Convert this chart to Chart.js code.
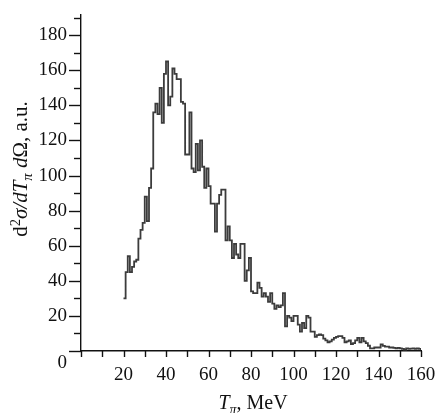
<!DOCTYPE html>
<html>
<head>
<meta charset="utf-8">
<script src="https://cdn.jsdelivr.net/npm/chart.js@4.4.1/dist/chart.umd.min.js"></script>
<style>
  html, body { margin: 0; padding: 0; background: #fff; }
  #wrap { width: 439px; height: 413px; position: relative; }
</style>
</head>
<body>
<div id="wrap"><canvas id="c"></canvas></div>
<script>
// Bin edges (MeV): each point is the right edge of a bin; first point is the start of the curve
const energyEdges = [20,21,22,23,24,25,26,27,28,29,30,31,32,33,34,35,36,37,38,39,
  40,41,42,43,44,45,46,47,48,49,50,51,52,53,54,55,56,57,58,59,
  60,61,62,63,64,65,66,67,68,69,70,71,72,73,74,75,76,77,78,79,
  80,81,82,83,84,85,86,87,88,89,90,91,92,93,94,95,96,97,98,99,
  100,101,102,103,104,105,106,107,108,109,110,111,112,113,114,115,116,117,118,119,
  120,121,122,123,124,125,126,127,128,129,130,131,132,133,134,135,136,137,138,139,
  140,141,142,143,144,145,146,147,148,149,150,151,152,153,154,155,156,157,158,159,160];
// d2sigma/dT dOmega (a.u.)
const crossSection = [30,
  45,54,45,48,51,52,64,69,73,88,74,93,104,136,141,135,150,130,158,165,
  140,145,161,158,155,155,142,141,112,112,136,104,102,118,103,120,105,93,104,94,
  84,84,68,84,89,92,92,63,71,63,53,61,55,53,61,61,40,46,53,34,
  33,33,39,36,31,33,31,28,33,27,24,26,25,26,33,14,20,19,17,20,
  20,15,11,16,13,20,19,11,11,8,9,9.5,9,7,6,5,5.5,6.5,7.5,8,
  8.5,8.5,7.5,5,5.5,6,4,4.5,6,7.5,5,7.5,5.5,4.5,3,1.5,1.5,2,2,2,
  3.8,2.9,2.5,2.5,2,2,1.8,1.5,1.8,1.5,1.2,0.8,1.5,1.2,1.3,1.5,1.2,1.5,1.2,0.5];
const xTickLabels = [20,40,60,80,100,120,140,160];
const yTickLabels = [20,40,60,80,100,120,140,160,180];

const FONT = '"Liberation Serif", "Times New Roman", serif';

function drawRich(ctx, segs, size, cx, cy) {
  let total = 0;
  segs.forEach(s => {
    const sz = size * (s.scale || 1);
    ctx.font = (s.italic ? 'italic ' : '') + sz + 'px ' + FONT;
    s.w = ctx.measureText(s.t).width;
    s.sz = sz;
    total += s.w;
  });
  let x = cx - total / 2;
  ctx.textBaseline = 'alphabetic';
  ctx.textAlign = 'left';
  segs.forEach(s => {
    ctx.font = (s.italic ? 'italic ' : '') + s.sz + 'px ' + FONT;
    ctx.fillText(s.t, x, cy + size * 0.33 + (s.dy || 0) * size);
    x += s.w;
  });
}

const axesPlugin = {
  id: 'axesPlugin',
  afterDraw(chart) {
    const ctx = chart.ctx;
    const xs = chart.scales.x, ys = chart.scales.y;
    const a = chart.chartArea;
    ctx.save();
    ctx.strokeStyle = '#111';
    ctx.lineWidth = 1.4;
    for (let v = 0; v <= 190; v += 10) {
      const py = Math.round(ys.getPixelForValue(v)) + 0.5;
      const len = (v % 20 === 0) ? 12 : 7;
      ctx.beginPath();
      ctx.moveTo(a.left - len, py);
      ctx.lineTo(a.left, py);
      ctx.stroke();
    }
    for (let v = 0; v <= 160; v += 10) {
      const px = Math.round(xs.getPixelForValue(v)) + 0.5;
      ctx.beginPath();
      ctx.moveTo(px, a.bottom);
      ctx.lineTo(px, a.bottom + 6);
      ctx.stroke();
    }
    ctx.fillStyle = '#111';
    ctx.font = '19px ' + FONT;
    ctx.textAlign = 'right';
    ctx.textBaseline = 'middle';
    ctx.fillText('0', a.left - 14, ys.getPixelForValue(0) + 12);
    drawRich(ctx, [
      {t: 'T', italic: true},
      {t: 'π', italic: true, scale: 0.7, dy: 0.25},
      {t: ', MeV'}
    ], 20, 253, 402);
    ctx.translate(20, 169);
    ctx.rotate(-Math.PI / 2);
    drawRich(ctx, [
      {t: 'd'},
      {t: '2', scale: 0.7, dy: -0.35},
      {t: 'σ/dT', italic: true},
      {t: 'π', italic: true, scale: 0.7, dy: 0.25},
      {t: ' d', italic: true},
      {t: 'Ω, a.u.'}
    ], 21, 0, 0);
    ctx.restore();
  }
};

function zeroPad(s) {
  s.paddingLeft = 0; s.paddingRight = 0; s.paddingTop = 0; s.paddingBottom = 0;
}

const points = energyEdges.map((e, i) => ({x: e, y: crossSection[i]}));

new Chart(document.getElementById('c'), {
  type: 'line',
  data: {
    datasets: [{
      data: points,
      stepped: 'before',
      borderColor: '#3c3c3c',
      borderWidth: 1.8,
      pointRadius: 0,
      fill: false
    }]
  },
  options: {
    responsive: true,
    maintainAspectRatio: false,
    animation: false,
    layout: { padding: { top: 15, right: 18, left: 0, bottom: 0 } },
    plugins: { legend: { display: false }, tooltip: { enabled: false } },
    scales: {
      x: {
        type: 'linear',
        min: 0, max: 160,
        grid: { display: false, drawTicks: false },
        border: { display: true, color: '#111', width: 1.4 },
        ticks: {
          stepSize: 20,
          padding: 13,
          color: '#111',
          font: { family: FONT, size: 19 },
          maxRotation: 0,
          callback: v => xTickLabels.includes(v) ? String(v) : ''
        },
        afterFit: s => { s.height = 62; zeroPad(s); }
      },
      y: {
        type: 'linear',
        min: 0, max: 191.5,
        grid: { display: false, drawTicks: false },
        border: { display: true, color: '#111', width: 1.4 },
        ticks: {
          stepSize: 10,
          padding: 14,
          color: '#111',
          autoSkip: false,
          font: { family: FONT, size: 19 },
          callback: v => yTickLabels.includes(v) ? String(v) : ''
        },
        afterFit: s => { s.width = 81; zeroPad(s); }
      }
    }
  },
  plugins: [axesPlugin]
});
</script>
</body>
</html>
